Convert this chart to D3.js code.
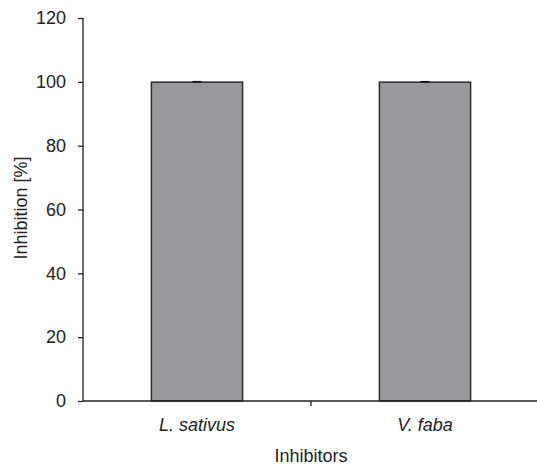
<!DOCTYPE html>
<html><head><meta charset="utf-8">
<script src="https://cdn.jsdelivr.net/npm/d3@7"></script>
<style>body{margin:0;background:#fff}svg{display:block}text{font-family:"Liberation Sans",Arial,sans-serif;fill:#222}</style>
</head><body><svg id="c" width="537" height="465"></svg>
<script>
const categories = ["L. sativus", "V. faba"];
const values = [99.9, 99.9];
const errors = [0.15, 0.15];
const yTicks = [0, 20, 40, 60, 80, 100, 120];

const svg = d3.select("#c");
const x = d3.scaleBand().domain(categories).range([83, 539]).padding(0);
const y = d3.scaleLinear().domain([0, 120]).range([401, 18]);
const barW = x.bandwidth() * 0.4;

// bars
svg.selectAll("rect.bar").data(categories).join("rect")
  .attr("x", d => x(d) + x.bandwidth()/2 - barW/2)
  .attr("y", (d,i) => y(values[i]))
  .attr("width", barW)
  .attr("height", (d,i) => y(0) - y(values[i]))
  .attr("fill", "#98979c").attr("stroke", "#2b2b2e").attr("stroke-width", 1.5);

// error caps
svg.selectAll("g.err").data(categories).join("g").each(function(d,i){
  const cx = x(d) + x.bandwidth()/2;
  const g = d3.select(this);
  g.append("line").attr("x1", cx).attr("x2", cx).attr("y1", y(values[i]+errors[i])).attr("y2", y(values[i]-errors[i])).attr("stroke","#111").attr("stroke-width",1);
  g.append("line").attr("x1", cx-4.5).attr("x2", cx+4.5).attr("y1", y(values[i]+errors[i])).attr("y2", y(values[i]+errors[i])).attr("stroke","#111").attr("stroke-width",1.5);
});

// y axis
const ya = svg.append("g").attr("transform","translate(83,0)")
  .call(d3.axisLeft(y).tickValues(yTicks).tickSize(5).tickPadding(12).tickFormat(d3.format("d")));
ya.select(".domain").attr("stroke","#222").attr("stroke-width",1.3).attr("d","M-0,18V401");
ya.selectAll(".tick line").attr("stroke","#222").attr("stroke-width",1.3);
ya.selectAll("text").style("font-size","18px").attr("fill","#222");

// x axis
const xa = svg.append("g").attr("transform","translate(0,401)")
  .call(d3.axisBottom(x).tickSize(0).tickPadding(17));
xa.select(".domain").attr("stroke","#222").attr("stroke-width",1.3).attr("d","M83,0H537");
xa.selectAll("text").style("font-size","18px").style("font-style","italic").attr("fill","#222");
svg.append("line").attr("x1", x(categories[1])).attr("x2", x(categories[1])).attr("y1",401).attr("y2",406).attr("stroke","#222").attr("stroke-width",1.3);

// labels
svg.append("text").attr("x", 311).attr("y", 462).attr("text-anchor","middle").style("font-size","18px").text("Inhibitors");
svg.append("text").attr("transform","translate(27,208) rotate(-90)").attr("text-anchor","middle").style("font-size","18px").text("Inhibition [%]");
</script></body></html>
